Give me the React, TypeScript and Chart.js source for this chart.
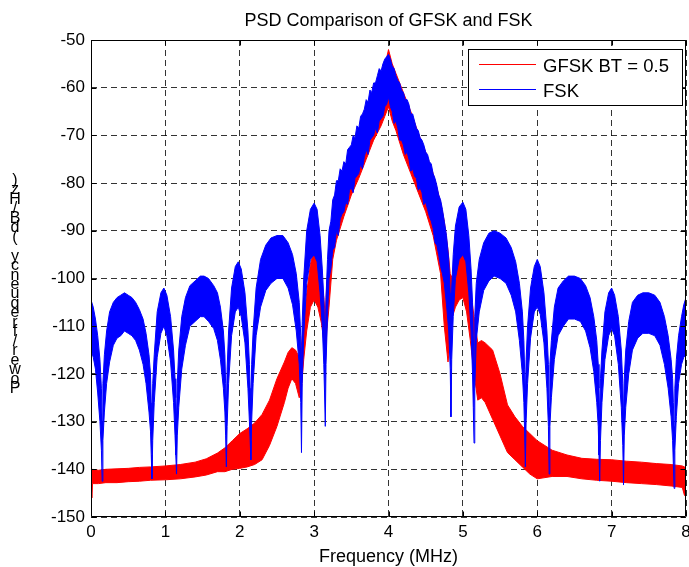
import React, { useEffect, useRef } from "react";
import { Chart, registerables } from "chart.js";

Chart.register(...registerables);

const titleText = "PSD Comparison of GFSK and FSK";
const xLabelText = "Frequency (MHz)";
const yLabelText = "Power/frequency (dB/Hz)";
const legendLabels = ["GFSK BT = 0.5", "FSK"];
const xTickValues = [0, 1, 2, 3, 4, 5, 6, 7, 8];
const yTickValues = [-150, -140, -130, -120, -110, -100, -90, -80, -70, -60, -50];

// FSK: frequency (MHz), upper and lower edge of the noisy PSD band (dB/Hz)
const fskFreq = [
  0, 0.03, 0.06, 0.09, 0.12, 0.14, 0.15, 0.16, 0.18, 0.21, 0.25,
  0.3, 0.35, 0.4, 0.45, 0.5, 0.55, 0.6, 0.65, 0.7, 0.74, 0.78,
  0.8, 0.81, 0.82, 0.83, 0.85, 0.89, 0.94, 0.98, 1.02, 1.07, 1.11, 1.13,
  1.14, 1.15, 1.16, 1.18, 1.22, 1.27, 1.33, 1.4, 1.47, 1.52, 1.58, 1.65, 1.7, 1.74, 1.78,
  1.8, 1.81, 1.82, 1.83, 1.85, 1.89, 1.94, 1.98, 2.02, 2.07, 2.11, 2.13,
  2.14, 2.15, 2.16, 2.18, 2.22, 2.28, 2.35, 2.42, 2.5, 2.58, 2.65, 2.71, 2.76, 2.8,
  2.82, 2.83, 2.84, 2.86, 2.9, 2.95, 3.0, 3.04, 3.08, 3.11, 3.13,
  3.14, 3.15,
  3.16, 3.18, 3.2, 3.225, 3.25, 3.275, 3.3, 3.325, 3.35, 3.375, 3.4, 3.425, 3.45, 3.475, 3.5, 3.525, 3.55, 3.575,
  3.6, 3.625, 3.65, 3.675, 3.7, 3.725, 3.75, 3.775, 3.8, 3.825, 3.85, 3.875, 3.9, 3.925, 3.95, 3.975, 4.0,
  4.025, 4.05, 4.075, 4.1, 4.125, 4.15, 4.175, 4.2, 4.225, 4.25, 4.275, 4.3, 4.325, 4.35, 4.375, 4.4, 4.425,
  4.45, 4.475, 4.5, 4.525, 4.55, 4.575, 4.6, 4.625, 4.65, 4.675, 4.7, 4.725, 4.75, 4.78, 4.81, 4.83,
  4.84, 4.85, 4.87, 4.9, 4.95, 5.0, 5.04, 5.08, 5.11, 5.13,
  5.14, 5.15, 5.16, 5.18, 5.22, 5.28, 5.35, 5.42, 5.5, 5.58, 5.65, 5.71, 5.76, 5.8,
  5.82, 5.83, 5.84, 5.85, 5.87, 5.91, 5.96, 6.0, 6.04, 6.09, 6.13, 6.15,
  6.16, 6.17, 6.19, 6.23, 6.28, 6.35, 6.42, 6.5, 6.58, 6.65, 6.71, 6.76, 6.8,
  6.82, 6.83, 6.84, 6.85, 6.87, 6.91, 6.96, 7.0, 7.04, 7.09, 7.13, 7.15,
  7.16, 7.17, 7.19, 7.23, 7.28, 7.35, 7.42, 7.5, 7.58, 7.65, 7.71, 7.76, 7.8,
  7.82, 7.83, 7.84, 7.85, 7.87, 7.9, 7.94, 7.97, 8.0,
];
const fskUpper = [
  -104.5, -106, -108.5, -112, -117, -123, -130, -122, -116, -111, -107,
  -105, -104, -103.5, -103, -103.5, -104, -105, -106.5, -108.5, -111.5, -116,
  -120, -126, -131, -122, -116, -107, -103, -102, -103.5, -108, -115, -121,
  -125, -130, -122, -115, -108, -104, -101.5, -100.5, -99.5, -99.5, -100, -101.5, -103, -106, -111,
  -116, -122, -128, -119, -111, -102, -97.5, -96.5, -98, -103, -111, -118,
  -123, -128, -118, -111, -102, -96, -93, -91.5, -91, -91, -92.5, -95, -99, -105,
  -112, -120, -109, -100, -90, -85.5, -84.2, -85.5, -91, -98, -104,
  -110, -116,
  -104, -96, -90, -88, -83.5, -82.5, -79.5, -79.5, -77, -77.5, -75.5, -76, -73, -72.5, -72, -70, -70.5, -68,
  -68.5, -66, -65.5, -64.5, -62.5, -63, -60.5, -61, -59, -59, -57.5, -56, -56.5, -55, -54, -53.5, -53,
  -54, -55.5, -56, -57.5, -58.5, -59, -60.5, -61, -62.5, -62.5, -63.5, -65.5, -65.5, -67, -68.5, -69, -70.5,
  -71, -72, -73.5, -74, -75.5, -76, -78, -79, -80.5, -82.5, -83.5, -85.5, -88, -91, -96, -103,
  -110, -102, -95, -89, -85, -84, -85.5, -91, -98, -105,
  -112, -118, -108, -101, -96, -92.5, -90.5, -90, -90.5, -91.5, -93.5, -96.5, -101, -107,
  -113, -119, -125, -117, -110, -102, -97.5, -96, -97.5, -103, -111, -118,
  -127, -118, -113, -106, -102, -100.5, -99.5, -99.5, -100, -101.5, -104, -108, -113,
  -118, -123, -130, -121, -115, -107, -103, -102, -103.5, -108, -115, -122,
  -130, -121, -115, -109, -105, -103.5, -103, -103, -103.5, -105, -108, -112, -117,
  -121, -126, -131, -123, -117, -112, -108, -105.5, -104,
];
const fskLower = [
  -115, -116.5, -119, -124, -130, -136, -142.5, -134, -128, -122, -117.5,
  -114, -112.5, -112, -111, -111.5, -112, -113, -115, -118, -122, -128,
  -132, -137, -142, -134, -126, -116.5, -111.5, -110, -112, -117.5, -126, -133,
  -137, -141, -133, -127, -119, -114, -110, -109, -108, -108, -109, -110.5, -113, -117, -123,
  -128, -133, -139.5, -131, -122, -112, -107, -106, -108, -113.5, -123, -130,
  -134, -138, -130, -122, -112, -106, -102.5, -101, -100, -100, -102, -105.5, -111, -118,
  -126, -136.5, -122, -112, -101, -96, -95, -96.5, -103, -110, -118,
  -124, -131,
  -118, -108, -100, -98, -94, -93.5, -90, -91, -87.5, -86.5, -86, -84, -84.5, -81.5, -81, -82, -79, -78.5,
  -78, -76, -77, -74.5, -73, -74, -71, -70.5, -70, -68.5, -69.5, -67, -66.5, -66, -64, -63.5, -62,
  -64, -65, -67.5, -67, -68.5, -71, -71, -72, -74, -73.5, -75, -77.5, -77, -78.5, -79, -81.5, -81,
  -82, -84.5, -84, -85.5, -87, -88, -89.5, -92.5, -93, -95, -97.5, -99, -101, -105.5, -111, -119,
  -129, -117, -108, -100, -96, -95, -96.5, -103, -111, -120,
  -127, -134.5, -123, -113, -107, -102.5, -100.5, -99.5, -100, -101, -103.5, -107, -113, -120,
  -126, -132, -139.5, -130, -122, -112.5, -107, -106, -107.5, -113.5, -123, -131,
  -141, -131, -125, -117, -112, -110, -108.5, -108.5, -109, -111, -114.5, -119.5, -126,
  -131, -137, -142.5, -134, -126, -117, -112, -110.5, -112, -118, -127, -135,
  -143.3, -133, -127, -120, -115, -112.5, -111.5, -111.5, -112, -114, -118, -123, -129,
  -134, -139, -144, -136, -129, -122, -118, -116.5, -116,
];

// GFSK BT = 0.5: frequency (MHz), upper and lower edge of the band (dB/Hz)
const gfskFreq = [
  0, 0.01, 0.02, 0.1, 0.2, 0.35, 0.5, 0.65, 0.8, 1.0,
  1.2, 1.4, 1.55, 1.7, 1.8, 1.9, 2.0, 2.1, 2.2, 2.3,
  2.4, 2.5, 2.6, 2.65, 2.7, 2.75, 2.8, 2.83, 2.86, 2.9, 2.95,
  3.0, 3.05, 3.1, 3.13, 3.15, 3.17, 3.2, 3.25, 3.3, 3.4, 3.5, 3.6, 3.7, 3.8, 3.9, 3.95, 4.0,
  4.05, 4.1, 4.2, 4.3, 4.4, 4.5, 4.6, 4.7, 4.75, 4.8, 4.83, 4.86, 4.9, 4.95,
  5.0, 5.05, 5.1, 5.15, 5.2, 5.25, 5.3, 5.4, 5.5, 5.6, 5.7, 5.8, 5.9, 6.0,
  6.2, 6.4, 6.6, 6.8, 7.0, 7.2, 7.4, 7.6, 7.8, 7.95, 7.98, 8.0,
];
const gfskUpper = [
  -140.5, -140.5, -140, -140.2, -140, -139.9, -139.8, -139.6, -139.5, -139.3,
  -139, -138.5, -137.8, -136.6, -135.5, -134, -132.5, -131.5, -130.3, -128.5,
  -125.5, -121, -117.5, -115.5, -114.5, -115, -116.5, -114, -109, -103, -97,
  -94, -96, -101, -104, -108, -101, -97, -91, -87, -80, -75, -71, -67, -62.5, -58, -55.5, -52,
  -55, -57, -61, -65, -69.5, -73.5, -78, -84, -88, -94, -99, -100, -97, -94.5,
  -94, -96, -102, -108, -113.5, -113, -113.5, -115, -120, -126.5, -129, -131, -132.5, -134,
  -136, -137, -137.7, -137.9, -138, -138.3, -138.5, -138.8, -139, -139.3, -139.5, -139.5,
];
const gfskLower = [
  -143, -146, -143, -143, -142.8, -142.8, -142.6, -142.5, -142.3, -142.2,
  -142, -141.6, -141.2, -140.5, -140.5, -140, -139.8, -139.5, -139, -138,
  -135, -131, -126, -123, -121, -122, -125, -123, -117, -111, -106,
  -104.5, -106, -109.5, -113, -118.5, -111, -106, -96, -92, -87, -82.5, -79, -75, -71, -68, -66, -64,
  -67, -69, -74, -78, -82, -86, -91, -99, -110, -117.5, -113, -108, -106, -104.5,
  -104, -107, -113, -120, -125.5, -125, -126, -129.5, -133, -136.5, -138, -139.5, -141, -142,
  -141.5, -141.5, -142, -142.3, -142.5, -142.8, -143, -143.2, -143.5, -143.8, -145.5, -144.5,
];

const RED = "#ff0000";
const BLUE = "#0000ff";
const FONT = '"Liberation Sans", Arial, Helvetica, sans-serif';

const toPoints = (xs: number[], ys: number[]) => xs.map((x, i) => ({ x, y: ys[i] }));

const decorPlugin = {
  id: "matlabDecor",
  afterDraw(chart: any) {
    const { ctx, chartArea: a } = chart;
    const xs = chart.scales.x;
    const ys = chart.scales.y;
    ctx.save();
    ctx.setLineDash([]);
    ctx.strokeStyle = "#000";
    ctx.lineWidth = 1;
    const L = Math.round(a.left) + 0.5;
    const R = Math.round(a.right) - 0.5;
    const T = Math.round(a.top) + 0.5;
    const B = Math.round(a.bottom) - 0.5;
    ctx.beginPath();
    ctx.rect(L, T, R - L, B - T);
    ctx.stroke();
    // inward tick marks on all sides
    ctx.beginPath();
    xTickValues.forEach((v) => {
      const px = Math.round(xs.getPixelForValue(v)) + 0.5;
      ctx.moveTo(px, B);
      ctx.lineTo(px, B - 5);
      ctx.moveTo(px, T);
      ctx.lineTo(px, T + 5);
    });
    yTickValues.forEach((v) => {
      const py = Math.round(ys.getPixelForValue(v)) + 0.5;
      ctx.moveTo(L, py);
      ctx.lineTo(L + 5, py);
      ctx.moveTo(R, py);
      ctx.lineTo(R - 5, py);
    });
    ctx.stroke();

    // title and x label
    ctx.fillStyle = "#000";
    ctx.textAlign = "center";
    ctx.textBaseline = "alphabetic";
    ctx.font = `18px ${FONT}`;
    const cx = (a.left + a.right) / 2;
    ctx.fillText(titleText, cx, 26);
    ctx.fillText(xLabelText, cx, 562);

    // y label: characters stacked bottom to top
    ctx.font = `16px ${FONT}`;
    const chars = yLabelText.split("");
    const step = (393 - 185) / (chars.length - 1);
    chars.forEach((c, i) => {
      ctx.fillText(c, 15, 393 - i * step);
    });

    // legend
    const lx = 468.5, ly = 49.5, lw = 214, lh = 56;
    ctx.fillStyle = "#fff";
    ctx.fillRect(lx, ly, lw, lh);
    ctx.strokeStyle = "#000";
    ctx.strokeRect(lx, ly, lw, lh);
    const colors = [RED, BLUE];
    const rowY = [64.5, 89.5];
    ctx.font = `18.5px ${FONT}`;
    ctx.textAlign = "left";
    legendLabels.forEach((lab, i) => {
      ctx.strokeStyle = colors[i];
      ctx.beginPath();
      ctx.moveTo(479, rowY[i]);
      ctx.lineTo(536, rowY[i]);
      ctx.stroke();
      ctx.fillStyle = "#000";
      ctx.fillText(lab, 543, rowY[i] + 7.5);
    });
    ctx.restore();
  },
};

export default function App() {
  const ref = useRef<HTMLCanvasElement | null>(null);

  useEffect(() => {
    if (!ref.current) return;
    Chart.defaults.font.family = FONT;
    Chart.defaults.color = "#000";
    const band = (data: any, color: string, fill: any) => ({
      data,
      borderColor: color,
      backgroundColor: color,
      borderWidth: 1,
      pointRadius: 0,
      tension: 0,
      fill,
    });
    const chart = new Chart(ref.current, {
      type: "line",
      data: {
        datasets: [
          { label: "FSK", ...band(toPoints(fskFreq, fskUpper), BLUE, 1) },
          { label: "FSK lower", ...band(toPoints(fskFreq, fskLower), BLUE, false) },
          { label: "GFSK BT = 0.5", ...band(toPoints(gfskFreq, gfskUpper), RED, 3) },
          { label: "GFSK lower", ...band(toPoints(gfskFreq, gfskLower), RED, false) },
        ],
      },
      options: {
        animation: false,
        responsive: false,
        maintainAspectRatio: false,
        events: [],
        layout: { padding: { top: 40, right: 3, left: 0, bottom: 0 } },
        plugins: {
          legend: { display: false },
          title: { display: false },
          tooltip: { enabled: false },
        },
        scales: {
          x: {
            type: "linear",
            min: 0,
            max: 8,
            afterBuildTicks: (s: any) => {
              s.ticks = xTickValues.map((v) => ({ value: v }));
            },
            ticks: { font: { size: 17 }, padding: 5, maxRotation: 0, autoSkip: false, color: "#000" },
            grid: { color: "rgba(0,0,0,0.8)", lineWidth: 1, drawTicks: false },
            border: { display: false, dash: [6, 4] },
            afterFit: (s: any) => {
              s.height = 50;
              s.paddingLeft = 0;
              s.paddingRight = 0;
            },
          },
          y: {
            type: "linear",
            min: -150,
            max: -50,
            afterBuildTicks: (s: any) => {
              s.ticks = yTickValues.map((v) => ({ value: v }));
            },
            ticks: { font: { size: 17 }, padding: 6, autoSkip: false, color: "#000" },
            grid: { color: "rgba(0,0,0,0.8)", lineWidth: 1, drawTicks: false },
            border: { display: false, dash: [6, 4] },
            afterFit: (s: any) => {
              s.width = 91;
              s.paddingTop = 0;
              s.paddingBottom = 0;
            },
          },
        },
      },
      plugins: [decorPlugin],
    });
    return () => chart.destroy();
  }, []);

  return (
    <div style={{ position: "absolute", left: 0, top: 0, width: 689, height: 567, background: "#fff" }}>
      <canvas ref={ref} width={689} height={567} />
    </div>
  );
}
